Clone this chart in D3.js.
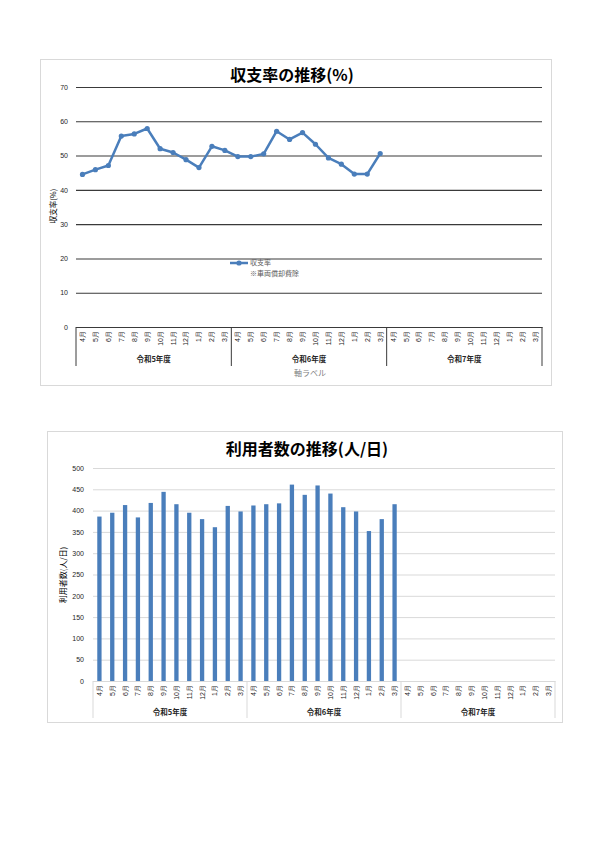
<!DOCTYPE html>
<html>
<head>
<meta charset="utf-8">
<script src="https://cdn.jsdelivr.net/npm/d3@7"></script>
<style>
  html, body { margin: 0; padding: 0; background: #fff; }
  svg { display: block; font-family: "Noto Sans CJK JP", "Noto Sans", sans-serif; }
  .tick text { fill: #262626; }
</style>
</head>
<body>
<svg id="page" width="600" height="848"></svg>
<script>
(function () {
  "use strict";

  // カテゴリ
  const fiscalYears = ["令和5年度", "令和6年度", "令和7年度"];
  const months = ["4月", "5月", "6月", "7月", "8月", "9月", "10月", "11月", "12月", "1月", "2月", "3月"];

  // 収支率(%) 令和5年度4月〜令和6年度3月
  const ratioValues = [44.5, 45.9, 47.1, 55.7, 56.3, 57.9, 52.0, 50.9, 48.8, 46.5, 52.7, 51.5,
                       49.7, 49.7, 50.5, 57.1, 54.7, 56.7, 53.3, 49.3, 47.5, 44.6, 44.6, 50.6];
  const ratioTicks = [0, 10, 20, 30, 40, 50, 60, 70];

  // 利用者数(人/日)
  const userValues = [386, 395, 413, 384, 418, 444, 415, 395, 380, 361, 411, 398,
                      412, 415, 417, 461, 437, 459, 440, 408, 398, 352, 380, 415];
  const userTicks = [0, 50, 100, 150, 200, 250, 300, 350, 400, 450, 500];

  const cats = [];
  fiscalYears.forEach((fy, i) => months.forEach((m, j) => cats.push({ key: i * 12 + j, fy, m })));

  const blue = "#4a7ebb";
  const svg = d3.select("#page");

  // 共通: 2段の分類軸
  function catAxis(g, x, H, opt) {
    const ax = g.append("g").attr("transform", `translate(0,${H})`)
      .call(d3.axisBottom(x).tickSize(0).tickFormat(k => cats[k].m));
    ax.select(".domain").attr("stroke", opt.axisColor).attr("stroke-width", opt.axisWidth);
    ax.selectAll("text")
      .attr("transform", "rotate(-90)")
      .attr("text-anchor", "end")
      .attr("x", -4).attr("y", 0).attr("dy", "0.35em")
      .style("font-size", "7px");

    const bounds = [0, 12, 24, 36];
    bounds.forEach(b => {
      const px = b < 36 ? x(b) : x.range()[1];
      g.append("line")
        .attr("x1", px).attr("x2", px)
        .attr("y1", H).attr("y2", H + opt.sepLen)
        .attr("stroke", opt.axisColor).attr("stroke-width", 1);
    });
    fiscalYears.forEach((fy, i) => {
      const cx = (x(i * 12) + (i < 2 ? x((i + 1) * 12) : x.range()[1])) / 2;
      g.append("text")
        .attr("x", cx).attr("y", H + opt.groupY)
        .attr("text-anchor", "middle")
        .style("font-size", "7.5px").style("font-weight", "bold").attr("fill", "#262626")
        .text(fy);
    });
  }

  // ---------- 収支率 ----------
  {
    svg.append("rect").attr("x", 40.5).attr("y", 59.5).attr("width", 511).attr("height", 326)
      .attr("fill", "#fff").attr("stroke", "#d9d9d9");

    const left = 76, top = 87, W = 466, H = 240;
    const g = svg.append("g").attr("transform", `translate(${left},${top})`);

    const x = d3.scaleBand().domain(cats.map(d => d.key)).range([0, W]);
    const y = d3.scaleLinear().domain([0, 70]).range([H, 0]);

    const ya = g.append("g")
      .call(d3.axisLeft(y).tickValues(ratioTicks).tickSize(-W).tickPadding(8));
    ya.select(".domain").remove();
    ya.selectAll("line").attr("stroke", "#3a3a3a").attr("stroke-width", 1.1);
    ya.selectAll("text").style("font-size", "7px");

    catAxis(g, x, H, { axisColor: "#3a3a3a", axisWidth: 1.2, sepLen: 39, groupY: 35 });

    const line = d3.line()
      .x((d, i) => x(i) + x.bandwidth() / 2)
      .y(d => y(d));
    g.append("path").datum(ratioValues)
      .attr("d", line).attr("fill", "none")
      .attr("stroke", blue).attr("stroke-width", 2.5).attr("stroke-linejoin", "round");
    g.selectAll(".pt").data(ratioValues).join("circle")
      .attr("class", "pt")
      .attr("cx", (d, i) => x(i) + x.bandwidth() / 2)
      .attr("cy", d => y(d))
      .attr("r", 2.6).attr("fill", blue);

    // タイトル
    svg.append("text").attr("x", 292).attr("y", 81)
      .attr("text-anchor", "middle").style("font-size", "16px").style("font-weight", "bold")
      .attr("fill", "#000").text("収支率の推移(%)");

    // 縦軸ラベル
    svg.append("text").attr("transform", "translate(56,206) rotate(-90)")
      .attr("text-anchor", "middle").style("font-size", "7.5px").attr("fill", "#000")
      .text("収支率(%)");

    // 軸ラベル
    svg.append("text").attr("x", 310).attr("y", 376)
      .attr("text-anchor", "middle").style("font-size", "8px").attr("fill", "#7f7f7f")
      .text("軸ラベル");

    // 凡例
    const lg = svg.append("g").attr("transform", "translate(230,263)");
    lg.append("line").attr("x1", 0).attr("x2", 18).attr("stroke", blue).attr("stroke-width", 2.5);
    lg.append("circle").attr("cx", 9).attr("r", 2.6).attr("fill", blue);
    lg.append("text").attr("x", 20).attr("y", 0).attr("dy", "0.35em")
      .style("font-size", "7px").attr("fill", "#595959").text("収支率");
    lg.append("text").attr("x", 20).attr("y", 11).attr("dy", "0.35em")
      .style("font-size", "7px").attr("fill", "#595959").text("※車両償却費除");
  }

  // ---------- 利用者数 ----------
  {
    svg.append("rect").attr("x", 47.5).attr("y", 431.5).attr("width", 515).attr("height", 291)
      .attr("fill", "#fff").attr("stroke", "#d9d9d9");

    const left = 93, top = 468, W = 462, H = 213;
    const g = svg.append("g").attr("transform", `translate(${left},${top})`);

    const x = d3.scaleBand().domain(cats.map(d => d.key)).range([0, W]);
    const y = d3.scaleLinear().domain([0, 500]).range([H, 0]);

    const ya = g.append("g")
      .call(d3.axisLeft(y).tickValues(userTicks).tickSize(-W).tickPadding(9));
    ya.select(".domain").remove();
    ya.selectAll("line").attr("stroke", "#d9d9d9").attr("stroke-width", 1);
    ya.selectAll("text").style("font-size", "7px");

    catAxis(g, x, H, { axisColor: "#d9d9d9", axisWidth: 1, sepLen: 37, groupY: 34 });

    const bw = 4.3;
    g.selectAll(".bar").data(userValues).join("rect")
      .attr("class", "bar")
      .attr("x", (d, i) => x(i) + x.bandwidth() / 2 - bw / 2)
      .attr("y", d => y(d))
      .attr("width", bw)
      .attr("height", d => H - y(d))
      .attr("fill", blue);

    svg.append("text").attr("x", 307).attr("y", 455)
      .attr("text-anchor", "middle").style("font-size", "16px").style("font-weight", "bold")
      .attr("fill", "#000").text("利用者数の推移(人/日)");

    svg.append("text").attr("transform", "translate(66,575) rotate(-90)")
      .attr("text-anchor", "middle").style("font-size", "8px").attr("fill", "#000")
      .text("利用者数(人/日)");
  }
})();
</script>
</body>
</html>
